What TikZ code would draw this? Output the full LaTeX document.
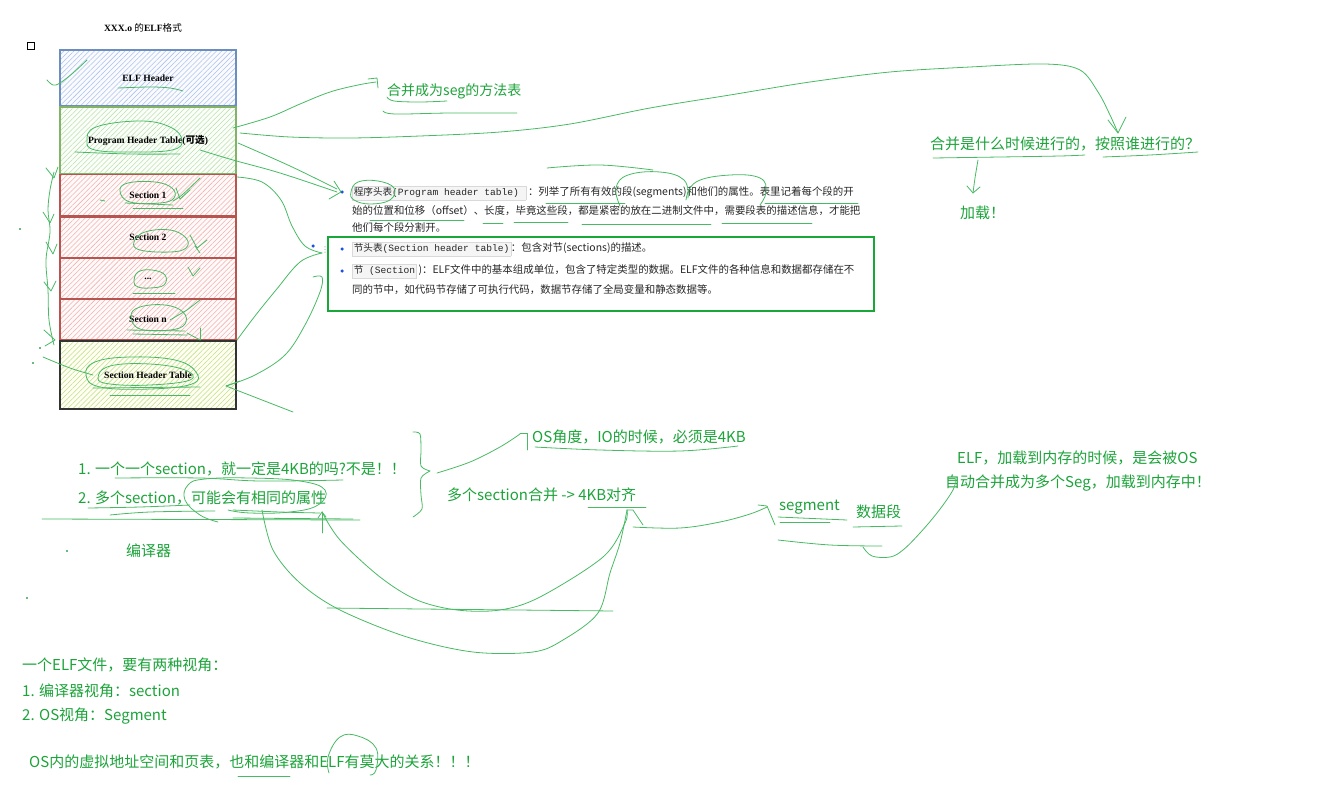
\documentclass[tikz,border=0pt]{standalone}
\usepackage{fontspec}
\setmainfont{Noto Sans CJK SC}
\newfontfamily\cjk{Noto Sans CJK SC}
\newfontfamily\serifl{Liberation Serif}
\newfontfamily\monol{Liberation Mono}
\newfontfamily\dejavu{DejaVu Sans}
\usetikzlibrary{patterns.meta}
\definecolor{gtext}{RGB}{28,163,58}
\definecolor{pen}{RGB}{72,186,100}
\definecolor{gbox}{RGB}{24,168,56}
\definecolor{bdot}{RGB}{30,80,230}
\definecolor{bluebd}{RGB}{108,142,191}
\definecolor{blueh}{RGB}{170,196,234}
\definecolor{greenbd}{RGB}{130,179,102}
\definecolor{greenh}{RGB}{192,222,176}
\definecolor{redbd}{RGB}{184,84,80}
\definecolor{redh}{RGB}{242,176,173}
\definecolor{yelh}{RGB}{192,224,128}
\newcommand\codebox[1]{{\setlength{\fboxsep}{1.2pt}\setlength{\fboxrule}{0.4pt}\fcolorbox{black!15}{black!4}{\monol\fontsize{9.6}{11}\selectfont\strut #1}}}
\tikzset{
  layer/.style={minimum width=176pt, minimum height=#1, inner sep=0pt, line width=1.1pt,
    font=\serifl\bfseries\fontsize{9.6}{11}\selectfont},
  hatch/.style={pattern={Lines[angle=45,distance=3.6pt,line width=0.55pt]}, pattern color=#1},
  pen/.style={draw=pen, line width=0.8pt, line cap=round, line join=round},
  gt/.style={anchor=west, inner sep=0pt, text=gtext, font=\fontsize{15}{17}\selectfont},
  btxt/.style={anchor=west, inner sep=0pt, text=black!85, font=\fontsize{10.45}{12}\selectfont},
  bul/.style={circle, fill=bdot, inner sep=0pt, minimum size=3.5pt},
}
\begin{document}
\begin{tikzpicture}[x=1pt,y=-1pt]
\useasboundingbox (0,0) rectangle (1317,792);

% ---------- title and stack ----------
\node[inner sep=0pt, font=\fontsize{9.6}{11}\selectfont] (title) at (143,28) {{\serifl\bfseries XXX.o }{\cjk 的}{\serifl\bfseries ELF}{\cjk 格式}};
\node[draw=black, line width=0.9pt, minimum size=7pt, inner sep=0pt] (sq) at (31,46) {};

\node[layer=56pt, draw=bluebd, preaction={fill=blue!2}, hatch=blueh] (elf) at (148,78) {ELF Header};
\node[layer=67pt, draw=greenbd, preaction={fill=green!2}, hatch=greenh] (pht) at (148,140.5) {Program Header Table({\cjk\fontsize{9.6}{11}\selectfont 可选})};
\node[layer=41pt, draw=redbd, preaction={fill=red!2}, hatch=redh] (s1) at (148,195) {Section 1};
\node[layer=41pt, draw=redbd, preaction={fill=red!2}, hatch=redh] (s2) at (148,237.5) {Section 2};
\node[layer=40pt, draw=redbd, preaction={fill=red!2}, hatch=redh] (sd) at (148,278.5) {...};
\node[layer=41pt, draw=redbd, preaction={fill=red!2}, hatch=redh] (sn) at (148,319.5) {Section n};
\node[layer=68pt, draw=black!80, preaction={fill=yellow!4}, hatch=yelh] (sht) at (148,375) {Section Header Table};

% ---------- text box ----------
\node[draw=gbox, line width=2pt, minimum width=546pt, minimum height=74pt, inner sep=0pt] (gbx) at (601,274) {};
\node[bul] (b1) at (342,192) {};
\node[bul] (b2) at (342,249) {};
\node[bul] (b3) at (342,271) {};
\node[bul] (b0) at (313,246) {};
\node[inner sep=0pt, text=black!40, font=\dejavu\fontsize{8}{8}\selectfont] (dots) at (325,250) {⋮};

\node[btxt] (l11) at (352,193) {\codebox{{\cjk 程序头表}(Program header table) }\,：列举了所有有效的段(segments)和他们的属性。表里记着每个段的开};
\node[btxt] (l12) at (352,211) {始的位置和位移（offset）、长度，毕竟这些段，都是紧密的放在二进制文件中，需要段表的描述信息，才能把};
\node[btxt] (l13) at (352,228) {他们每个段分割开。};
\node[btxt] (l21) at (352,249) {\codebox{{\cjk 节头表}(Section header table)}：包含对节(sections)的描述。};
\node[btxt] (l31) at (352,271) {\codebox{{\cjk 节} (Section}\,)：ELF文件中的基本组成单位，包含了特定类型的数据。ELF文件的各种信息和数据都存储在不};
\node[btxt] (l32) at (352,290) {同的节中，如代码节存储了可执行代码，数据节存储了全局变量和静态数据等。};

% ---------- green notes ----------
\node[gt, font=\fontsize{14}{16}\selectfont] (mseg) at (387,91) {合并成为seg的方法表};
\node[gt] (q) at (930,144) {合并是什么时候进行的，按照谁进行的？};
\node[gt] (load) at (960,213) {加载！};
\node[gt] (it1) at (78,469) {1. 一个一个section，就一定是4KB的吗?不是！！};
\node[gt] (it2) at (78,498) {2. 多个section，可能会有相同的属性};
\node[gt] (comp) at (126,551) {编译器};
\node[gt] (osio) at (532,437) {OS角度，IO的时候，必须是4KB};
\node[gt] (m4k) at (447,495) {多个section合并 -> 4KB对齐};
\node[gt] (seg) at (779,507) {segment};
\node[gt] (dseg) at (856,512) {数据段};
\node[gt] (e1) at (957,458) {ELF，加载到内存的时候，是会被OS};
\node[gt] (e2) at (945,483) {自动合并成为多个Seg，加载到内存中！};
\node[gt] (v0) at (22,665) {一个ELF文件，要有两种视角：};
\node[gt] (v1) at (22,691) {1. 编译器视角：section};
\node[gt] (v2) at (22,716) {2. OS视角：Segment};
\node[gt] (v3) at (29,762) {OS内的虚拟地址空间和页表，也和编译器和ELF有莫大的关系！！！};

% ---------- freehand strokes ----------
% PHT -> 合并成为seg
\draw[pen] plot[smooth,tension=.6] coordinates {(233,128) (270,117) (300,104) (330,92) (358,85) (376,82)};
\draw[pen] (368,79) -- (377,78) -- (378,88);
\draw[pen] plot[smooth,tension=.6] coordinates {(387,97) (394,101) (420,102) (447,101)};
\draw[pen] plot[smooth,tension=.6] coordinates {(383,111) (395,114) (450,113) (517,113)};
% PHT -> question (long curve)
\draw[pen] plot[smooth,tension=.55] coordinates {(240,133) (290,137) (350,138) (420,136) (500,132) (570,124) (650,108) (730,95) (810,82) (890,72) (970,67) (1045,64) (1080,70) (1098,92) (1110,115) (1118,133)};
\draw[pen] (1108,120) -- (1118,133) -- (1126,117);
\draw[pen] plot[smooth,tension=.6] coordinates {(933,158) (1000,157) (1060,156) (1085,155)};
\draw[pen] plot[smooth,tension=.6] coordinates {(1103,157) (1150,155) (1198,152)};
% question -> 加载
\draw[pen] plot[smooth,tension=.6] coordinates {(978,160) (975,178) (973,193)};
\draw[pen] (967,186) -- (973,193) -- (980,187);
% PHT -> bullet 1
\draw[pen] plot[smooth,tension=.6] coordinates {(238,143) (290,166) (337,189)};
\draw[pen] plot[smooth,tension=.6] coordinates {(200,150) (233,160) (280,173) (337,192)};
\draw[pen] (334,181) -- (341,192) -- (329,199);
% Section 1 -> bullet 2 -> Section n
\draw[pen] plot[smooth,tension=.6] coordinates {(237,177) (262,182) (281,200) (292,226) (305,246) (322,253)};
\draw[pen] plot[smooth,tension=.6] coordinates {(322,253) (300,262) (276,290) (255,316) (237,340)};
% bullet 3 -> SHT
\draw[pen] plot[smooth,tension=.6] coordinates {(313,277) (322,277) (320,292) (305,325) (285,355) (255,375) (226,386)};
\draw[pen] (240,381) -- (226,386) -- (293,412);
% scribbles on bullet 1
\draw[pen] plot[smooth cycle,tension=.7] coordinates {(351,192) (358,182) (378,181) (394,188) (390,200) (370,204) (354,200)};
\draw[pen] plot[smooth,tension=.6] coordinates {(547,168) (600,165) (653,170)};
\draw[pen] plot[smooth,tension=.7] coordinates {(620,206) (616,188) (628,175) (660,172) (684,180) (688,198)};
\draw[pen] plot[smooth,tension=.7] coordinates {(686,200) (696,182) (730,175) (760,178) (766,192) (760,205)};
\draw[pen] (546,203) -- (625,203);
\draw[pen] (765,203) -- (858,203);
\draw[pen] (370,220) -- (464,220);
\draw[pen] (483,223) -- (503,223);
\draw[pen] (514,222) -- (568,222);
\draw[pen] (582,224) -- (711,224);
\draw[pen] (722,223) -- (812,223);
% left side of stack
\draw[pen] plot[smooth,tension=.6] coordinates {(87,60) (73,73) (60,83) (53,85) (47,80)};
\draw[pen] plot[smooth,tension=.6] coordinates {(54,172) (50,190) (48,210) (50,232) (46,260) (48,290) (49,320) (54,345)};
\draw[pen] (46,168) -- (54,178) -- (58,167);
\draw[pen] (43,212) -- (50,223) -- (54,214);
\draw[pen] (46,242) -- (53,254) -- (57,244);
\draw[pen] (44,282) -- (51,291) -- (56,281);
\draw[pen] (44,330) -- (55,340) -- (45,346);
\draw[pen] plot[smooth,tension=.6] coordinates {(43,357) (70,368) (93,375)};
\fill[pen] (40,348) circle (0.6pt) (33,363) circle (0.6pt) (20,229) circle (0.6pt);
% label scribbles in stack
\draw[pen] plot[smooth,tension=.6] coordinates {(118,88) (150,87) (170,88) (183,91)};
\draw[pen] plot[smooth cycle,tension=.7] coordinates {(87,141) (96,127) (140,121) (170,127) (182,140) (172,150) (130,152) (95,150)};
\draw[pen] plot[smooth,tension=.6] coordinates {(75,152) (130,154) (180,154)};
\draw[pen] plot[smooth cycle,tension=.7] coordinates {(120,191) (128,183) (155,182) (172,188) (174,198) (160,203) (130,202)};
\draw[pen] (125,203) -- (173,205);
\draw[pen] (133,208) -- (183,208);
\draw[pen] plot[smooth,tension=.6] coordinates {(173,201) (182,195) (200,178)};
\draw[pen] (176,188) -- (180,199) -- (190,190);
\draw[pen] (100,200) -- (105,201);
\draw[pen] plot[smooth cycle,tension=.7] coordinates {(134,242) (145,232) (170,230) (186,238) (186,248) (170,252) (140,250)};
\draw[pen] (190,235) -- (197,248) -- (207,240);
\draw[pen] (195,246) -- (200,253);
\draw[pen] plot[smooth cycle,tension=.7] coordinates {(134,282) (138,272) (152,270) (165,275) (164,285) (150,288) (138,287)};
\draw[pen] (133,293) -- (175,293);
\draw[pen] (188,267) -- (193,276) -- (200,268);
\draw[pen] plot[smooth cycle,tension=.7] coordinates {(131,316) (140,307) (165,305) (183,312) (185,324) (170,330) (140,329)};
\draw[pen] (127,330) -- (185,331);
\draw[pen] (133,334) -- (187,335);
\draw[pen] (170,320) -- (187,310) -- (200,300);
\draw[pen] (187,333) -- (200,340);
\draw[pen] (200,328) -- (200,340);
\draw[pen] plot[smooth cycle,tension=.7] coordinates {(86,375) (95,362) (130,357) (175,360) (196,372) (192,384) (150,389) (100,387)};
\draw[pen] plot[smooth cycle,tension=.7] coordinates {(98,378) (110,366) (150,364) (185,370) (190,380) (150,385) (110,384)};
\draw[pen] (93,388) -- (200,387);
\draw[pen] (110,395) -- (190,395);
% brace
\draw[pen] plot[smooth,tension=.5] coordinates {(413,432) (420,434) (421,450) (421,466) (430,471)};
\draw[pen] plot[smooth,tension=.5] coordinates {(430,471) (421,478) (421,495) (422,509) (413,517)};
% brace -> OS角度
\draw[pen] plot[smooth,tension=.6] coordinates {(437,473) (470,462) (500,447) (520,434)};
\draw[pen] (520,433) -- (527,433) -- (527,450);
\draw[pen] plot[smooth,tension=.6] coordinates {(535,447) (600,450) (680,451) (738,446)};
% item underlines and loops
\draw[pen] plot[smooth,tension=.6] coordinates {(115,478) (200,478) (260,481) (343,480)};
\draw[pen] plot[smooth,tension=.6] coordinates {(88,508) (140,507) (190,505)};
\draw[pen] plot[smooth,tension=.6] coordinates {(110,515) (150,512) (215,511)};
\draw[pen] plot[smooth,tension=.6] coordinates {(233,510) (280,512) (320,513)};
\draw[pen] plot[smooth,tension=.7] coordinates {(218,522) (200,515) (185,500) (188,485) (205,479) (250,478) (300,481) (325,490) (318,505) (290,512) (250,513) (228,510)};
\draw[pen] (42,519) -- (360,520);
\draw[pen] (233,518) -- (353,519);
\draw[pen] (322,533) -- (322,512);
\draw[pen] (318,518) -- (322,512) -- (326,517);
% curves between item 2 and 4KB
\draw[pen] plot[smooth,tension=.55] coordinates {(262,510) (273,550) (300,583) (340,610) (407,637) (473,652) (533,652) (563,640) (598,613) (610,573) (620,543) (627,510)};
\draw[pen] plot[smooth,tension=.55] coordinates {(322,512) (340,540) (380,577) (417,600) (457,610) (500,610) (540,597) (603,557) (625,523) (627,510)};
\draw[pen] (327,608) -- (613,611);
% 4KB -> segment
\draw[pen] (588,507) -- (646,507);
\draw[pen] (627,510) -- (633,510) -- (643,525);
\draw[pen] plot[smooth,tension=.6] coordinates {(633,527) (680,528) (720,522) (750,514) (767,507)};
\draw[pen] (758,505) -- (767,506) -- (775,525);
\draw[pen] (778,517) -- (847,520);
\draw[pen] (780,522) -- (830,522);
\draw[pen] (853,527) -- (902,526);
\draw[pen] plot[smooth,tension=.6] coordinates {(778,540) (830,545) (882,546)};
% segment -> ELF note
\draw[pen] plot[smooth,tension=.6] coordinates {(863,547) (872,556) (890,557) (903,550) (920,533) (937,513) (950,495) (955,485) (955,478)};
\draw[pen] (948,478) -- (955,478);
% bottom note scribbles
\draw[pen] (238,776) -- (290,776);
\draw[pen] plot[smooth,tension=.7] coordinates {(329,773) (328,757) (340,737) (358,736) (376,748) (376,770) (370,775)};
\fill[pen] (27,598) circle (0.6pt) (67,551) circle (0.6pt);
\end{tikzpicture}
\end{document}
